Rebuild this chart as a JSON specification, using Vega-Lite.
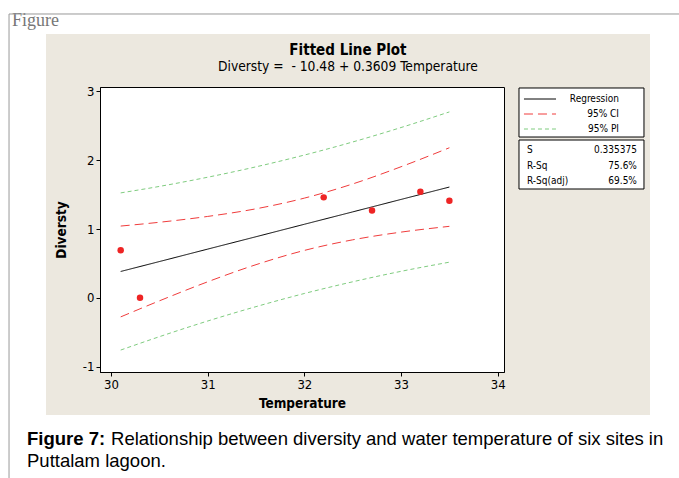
{
  "$schema": "https://vega.github.io/schema/vega-lite/v6.json",
  "width": 404,
  "height": 285,
  "autosize": {"type": "none"},
  "padding": {"left": 100, "top": 87, "right": 175, "bottom": 106},
  "background": "#ece8df",
  "datasets": {
    "bands": [
      {"Temperature": 30.1, "Diversty": 0.383, "series": "Regression", "part": "fit"},
      {"Temperature": 30.5, "Diversty": 0.527, "series": "Regression", "part": "fit"},
      {"Temperature": 31.0, "Diversty": 0.708, "series": "Regression", "part": "fit"},
      {"Temperature": 31.5, "Diversty": 0.888, "series": "Regression", "part": "fit"},
      {"Temperature": 32.0, "Diversty": 1.069, "series": "Regression", "part": "fit"},
      {"Temperature": 32.5, "Diversty": 1.249, "series": "Regression", "part": "fit"},
      {"Temperature": 33.0, "Diversty": 1.430, "series": "Regression", "part": "fit"},
      {"Temperature": 33.5, "Diversty": 1.610, "series": "Regression", "part": "fit"},
      {"Temperature": 30.1, "Diversty": 1.043, "series": "95% CI", "part": "ci_upper"},
      {"Temperature": 30.5, "Diversty": 1.098, "series": "95% CI", "part": "ci_upper"},
      {"Temperature": 31.0, "Diversty": 1.183, "series": "95% CI", "part": "ci_upper"},
      {"Temperature": 31.5, "Diversty": 1.294, "series": "95% CI", "part": "ci_upper"},
      {"Temperature": 32.0, "Diversty": 1.449, "series": "95% CI", "part": "ci_upper"},
      {"Temperature": 32.5, "Diversty": 1.655, "series": "95% CI", "part": "ci_upper"},
      {"Temperature": 33.0, "Diversty": 1.905, "series": "95% CI", "part": "ci_upper"},
      {"Temperature": 33.5, "Diversty": 2.181, "series": "95% CI", "part": "ci_upper"},
      {"Temperature": 30.1, "Diversty": -0.277, "series": "95% CI", "part": "ci_lower"},
      {"Temperature": 30.5, "Diversty": -0.044, "series": "95% CI", "part": "ci_lower"},
      {"Temperature": 31.0, "Diversty": 0.233, "series": "95% CI", "part": "ci_lower"},
      {"Temperature": 31.5, "Diversty": 0.482, "series": "95% CI", "part": "ci_lower"},
      {"Temperature": 32.0, "Diversty": 0.689, "series": "95% CI", "part": "ci_lower"},
      {"Temperature": 32.5, "Diversty": 0.843, "series": "95% CI", "part": "ci_lower"},
      {"Temperature": 33.0, "Diversty": 0.955, "series": "95% CI", "part": "ci_lower"},
      {"Temperature": 33.5, "Diversty": 1.039, "series": "95% CI", "part": "ci_lower"},
      {"Temperature": 30.1, "Diversty": 1.525, "series": "95% PI", "part": "pi_upper"},
      {"Temperature": 30.5, "Diversty": 1.619, "series": "95% PI", "part": "pi_upper"},
      {"Temperature": 31.0, "Diversty": 1.753, "series": "95% PI", "part": "pi_upper"},
      {"Temperature": 31.5, "Diversty": 1.904, "series": "95% PI", "part": "pi_upper"},
      {"Temperature": 32.0, "Diversty": 2.075, "series": "95% PI", "part": "pi_upper"},
      {"Temperature": 32.5, "Diversty": 2.265, "series": "95% PI", "part": "pi_upper"},
      {"Temperature": 33.0, "Diversty": 2.475, "series": "95% PI", "part": "pi_upper"},
      {"Temperature": 33.5, "Diversty": 2.702, "series": "95% PI", "part": "pi_upper"},
      {"Temperature": 30.1, "Diversty": -0.759, "series": "95% PI", "part": "pi_lower"},
      {"Temperature": 30.5, "Diversty": -0.565, "series": "95% PI", "part": "pi_lower"},
      {"Temperature": 31.0, "Diversty": -0.337, "series": "95% PI", "part": "pi_lower"},
      {"Temperature": 31.5, "Diversty": -0.128, "series": "95% PI", "part": "pi_lower"},
      {"Temperature": 32.0, "Diversty": 0.063, "series": "95% PI", "part": "pi_lower"},
      {"Temperature": 32.5, "Diversty": 0.233, "series": "95% PI", "part": "pi_lower"},
      {"Temperature": 33.0, "Diversty": 0.385, "series": "95% PI", "part": "pi_lower"},
      {"Temperature": 33.5, "Diversty": 0.518, "series": "95% PI", "part": "pi_lower"}
    ],
    "obs": [
      {"Temperature": 30.1, "Diversty": 0.69},
      {"Temperature": 30.3, "Diversty": 0.0},
      {"Temperature": 32.2, "Diversty": 1.46},
      {"Temperature": 32.7, "Diversty": 1.27},
      {"Temperature": 33.2, "Diversty": 1.54},
      {"Temperature": 33.5, "Diversty": 1.41}
    ],
    "stats": [
      {"stat": "S", "value": "0.335375"},
      {"stat": "R-Sq", "value": "75.6%"},
      {"stat": "R-Sq(adj)", "value": "69.5%"}
    ],
    "blank": [{}]
  },
  "layer": [
    {
      "data": {"name": "bands"},
      "mark": {"type": "line", "strokeWidth": 1, "interpolate": "monotone"},
      "encoding": {
        "x": {
          "field": "Temperature",
          "type": "quantitative",
          "title": "Temperature",
          "scale": {"domain": [29.886, 34.065], "nice": false, "zero": false},
          "axis": {"values": [30, 31, 32, 33, 34], "labelExpr": "'' + datum.value", "titlePadding": 5}
        },
        "y": {
          "field": "Diversty",
          "type": "quantitative",
          "title": "Diversty",
          "scale": {"domain": [-1.078, 3.064], "nice": false, "zero": false},
          "axis": {"values": [-1, 0, 1, 2, 3], "labelExpr": "'' + datum.value", "titlePadding": 14}
        },
        "detail": {"field": "part"},
        "stroke": {
          "field": "series",
          "type": "nominal",
          "title": null,
          "scale": {"domain": ["Regression", "95% CI", "95% PI"], "range": ["#000000", "#f03c3c", "#7fcc7f"]}
        },
        "strokeDash": {
          "field": "series",
          "type": "nominal",
          "title": null,
          "scale": {"domain": ["Regression", "95% CI", "95% PI"], "range": [[1, 0], [9, 5], [4, 3]]}
        }
      }
    },
    {
      "data": {"name": "obs"},
      "mark": {"type": "circle", "size": 42, "color": "#ee2424", "opacity": 1},
      "encoding": {
        "x": {"field": "Temperature", "type": "quantitative", "title": "Temperature"},
        "y": {"field": "Diversty", "type": "quantitative", "title": "Diversty"}
      }
    },
    {
      "data": {"name": "blank"},
      "mark": {"type": "rect", "fill": "white", "stroke": null},
      "encoding": {
        "x": {"datum": 28.8, "type": "quantitative", "title": "Temperature"},
        "x2": {"datum": 35.95},
        "y": {"datum": 4.4, "type": "quantitative", "title": "Diversty"},
        "y2": {"datum": 3.834}
      }
    },
    {
      "data": {"name": "blank"},
      "mark": {"type": "rect", "fill": "white", "stroke": null},
      "encoding": {
        "x": {"datum": 28.8, "type": "quantitative", "title": "Temperature"},
        "x2": {"datum": 35.95},
        "y": {"datum": -1.703, "type": "quantitative", "title": "Diversty"},
        "y2": {"datum": -2.7}
      }
    },
    {
      "data": {"name": "blank"},
      "mark": {"type": "rect", "fill": "white", "stroke": null},
      "encoding": {
        "x": {"datum": 28.8, "type": "quantitative", "title": "Temperature"},
        "x2": {"datum": 29.3275},
        "y": {"datum": 4.4, "type": "quantitative", "title": "Diversty"},
        "y2": {"datum": -2.7}
      }
    },
    {
      "data": {"name": "blank"},
      "mark": {"type": "rect", "fill": "white", "stroke": null},
      "encoding": {
        "x": {"datum": 35.575, "type": "quantitative", "title": "Temperature"},
        "x2": {"datum": 35.95},
        "y": {"datum": 4.4, "type": "quantitative", "title": "Diversty"},
        "y2": {"datum": -2.7}
      }
    },
    {
      "data": {"name": "blank"},
      "mark": {"type": "rect", "fill": "white", "stroke": "black", "strokeWidth": 1},
      "encoding": {
        "x": {"datum": 34.22, "type": "quantitative", "title": "Temperature"},
        "x2": {"datum": 35.513},
        "y": {"datum": 3.0495, "type": "quantitative", "title": "Diversty"},
        "y2": {"datum": 2.337}
      }
    },
    {
      "data": {"name": "blank"},
      "mark": {"type": "rect", "fill": "white", "stroke": "black", "strokeWidth": 1},
      "encoding": {
        "x": {"datum": 34.22, "type": "quantitative", "title": "Temperature"},
        "x2": {"datum": 35.513},
        "y": {"datum": 2.2937, "type": "quantitative", "title": "Diversty"},
        "y2": {"datum": 1.5814}
      }
    },
    {
      "data": {"name": "stats"},
      "transform": [{"filter": "datum.stat === 'S'"}],
      "encoding": {"y": {"datum": 2.148, "type": "quantitative", "title": "Diversty"}},
      "layer": [
        {"mark": {"type": "text", "align": "left", "baseline": "middle", "fontSize": 10, "color": "black"}, "encoding": {"x": {"datum": 34.303, "type": "quantitative", "title": "Temperature"}, "text": {"field": "stat"}}},
        {"mark": {"type": "text", "align": "right", "baseline": "middle", "fontSize": 10, "color": "black"}, "encoding": {"x": {"datum": 35.44, "type": "quantitative", "title": "Temperature"}, "text": {"field": "value"}}}
      ]
    },
    {
      "data": {"name": "stats"},
      "transform": [{"filter": "datum.stat === 'R-Sq'"}],
      "encoding": {"y": {"datum": 1.916, "type": "quantitative", "title": "Diversty"}},
      "layer": [
        {"mark": {"type": "text", "align": "left", "baseline": "middle", "fontSize": 10, "color": "black"}, "encoding": {"x": {"datum": 34.303, "type": "quantitative", "title": "Temperature"}, "text": {"field": "stat"}}},
        {"mark": {"type": "text", "align": "right", "baseline": "middle", "fontSize": 10, "color": "black"}, "encoding": {"x": {"datum": 35.44, "type": "quantitative", "title": "Temperature"}, "text": {"field": "value"}}}
      ]
    },
    {
      "data": {"name": "stats"},
      "transform": [{"filter": "datum.stat === 'R-Sq(adj)'"}],
      "encoding": {"y": {"datum": 1.698, "type": "quantitative", "title": "Diversty"}},
      "layer": [
        {"mark": {"type": "text", "align": "left", "baseline": "middle", "fontSize": 10, "color": "black"}, "encoding": {"x": {"datum": 34.303, "type": "quantitative", "title": "Temperature"}, "text": {"field": "stat"}}},
        {"mark": {"type": "text", "align": "right", "baseline": "middle", "fontSize": 10, "color": "black"}, "encoding": {"x": {"datum": 35.44, "type": "quantitative", "title": "Temperature"}, "text": {"field": "value"}}}
      ]
    },
    {
      "data": {"name": "blank"},
      "mark": {"type": "text", "align": "center", "baseline": "alphabetic", "fontSize": 15, "fontWeight": "bold", "color": "black"},
      "encoding": {"x": {"datum": 32.451, "type": "quantitative", "title": "Temperature"}, "y": {"datum": 3.529, "type": "quantitative", "title": "Diversty"}, "text": {"value": "Fitted Line Plot"}}
    },
    {
      "data": {"name": "blank"},
      "mark": {"type": "text", "align": "center", "baseline": "alphabetic", "fontSize": 13.7, "color": "black"},
      "encoding": {"x": {"datum": 32.451, "type": "quantitative", "title": "Temperature"}, "y": {"datum": 3.297, "type": "quantitative", "title": "Diversty"}, "text": {"value": "Diversty =\u00a0 - 10.48 + 0.3609 Temperature"}}
    },
    {
      "data": {"name": "blank"},
      "mark": {"type": "text", "align": "left", "baseline": "alphabetic", "font": "Liberation Sans", "fontSize": 18.5, "fontWeight": "bold", "color": "black"},
      "encoding": {"x": {"datum": 29.131, "type": "quantitative", "title": "Temperature"}, "y": {"datum": -2.14, "type": "quantitative", "title": "Diversty"}, "text": {"value": "Figure 7:"}}
    },
    {
      "data": {"name": "blank"},
      "mark": {"type": "text", "align": "left", "baseline": "alphabetic", "font": "Liberation Sans", "fontSize": 18.5, "color": "black"},
      "encoding": {"x": {"datum": 30.0, "type": "quantitative", "title": "Temperature"}, "y": {"datum": -2.14, "type": "quantitative", "title": "Diversty"}, "text": {"value": "Relationship between diversity and water temperature of six sites in"}}
    },
    {
      "data": {"name": "blank"},
      "mark": {"type": "text", "align": "left", "baseline": "alphabetic", "font": "Liberation Sans", "fontSize": 18.5, "color": "black"},
      "encoding": {"x": {"datum": 29.131, "type": "quantitative", "title": "Temperature"}, "y": {"datum": -2.459, "type": "quantitative", "title": "Diversty"}, "text": {"value": "Puttalam lagoon."}}
    },
    {
      "data": {"name": "blank"},
      "mark": {"type": "text", "align": "left", "baseline": "alphabetic", "font": "Liberation Serif", "fontSize": 18, "color": "#777777"},
      "encoding": {"x": {"datum": 28.976, "type": "quantitative", "title": "Temperature"}, "y": {"datum": 3.951, "type": "quantitative", "title": "Diversty"}, "text": {"value": "Figure"}}
    },
    {
      "data": {"name": "blank"},
      "mark": {"type": "rule", "color": "#999999", "strokeWidth": 1},
      "encoding": {"x": {"datum": 28.945, "type": "quantitative", "title": "Temperature"}, "x2": {"datum": 35.95}, "y": {"datum": 4.125, "type": "quantitative", "title": "Diversty"}}
    },
    {
      "data": {"name": "blank"},
      "mark": {"type": "rule", "color": "#999999", "strokeWidth": 1},
      "encoding": {"x": {"datum": 28.945, "type": "quantitative", "title": "Temperature"}, "y": {"datum": 4.125, "type": "quantitative", "title": "Diversty"}, "y2": {"datum": -2.7}}
    }
  ],
  "config": {
    "view": {"fill": "white", "stroke": "black", "strokeWidth": 1},
    "font": "DejaVu Sans Condensed, Liberation Sans",
    "axis": {
      "grid": false,
      "domainColor": "black",
      "tickColor": "black",
      "tickSize": 4,
      "labelColor": "black",
      "titleColor": "black",
      "labelFontSize": 13,
      "titleFontSize": 13.5,
      "titleFontWeight": "bold",
      "labelPadding": 2,
      "titlePadding": 3
    },
    "legend": {
      "orient": "right",
      "offset": 24,
      "padding": 6,
      "symbolType": "M-3,0H3",
      "symbolSize": 114,
      "symbolStrokeWidth": 1,
      "labelFontSize": 10,
      "labelColor": "black",
      "labelAlign": "right",
      "labelOffset": 73,
      "rowPadding": 4
    }
  }
}
